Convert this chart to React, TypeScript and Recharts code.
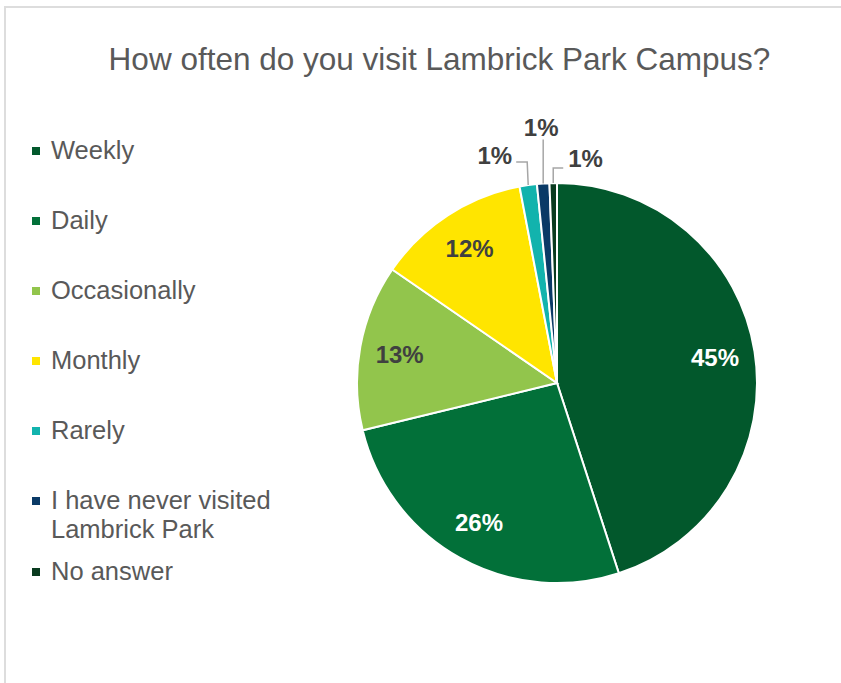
import { PieChart, Pie, Cell } from "recharts";

const categories = [
  "Weekly",
  "Daily",
  "Occasionally",
  "Monthly",
  "Rarely",
  "I have never visited Lambrick Park",
  "No answer",
];
const shares = [45.0, 26.2, 13.4, 12.4, 1.4, 1.0, 0.6];
const colors = [
  "#02582c",
  "#027039",
  "#92c54c",
  "#ffe500",
  "#12b3ad",
  "#0a3a66",
  "#093b1f",
];

const data = categories.map((name, i) => ({ name, value: shares[i] }));

const FONT = "'Liberation Sans', Arial, sans-serif";
const RADIAN = Math.PI / 180;

// leader lines for the thin slices, offsets from the slice's outer edge
const leaders: Record<number, { pts: number[][]; text: number[]; anchor: string }> = {
  4: { pts: [[-1, -23], [-12, -23]], text: [-16, -30], anchor: "end" },
  5: { pts: [[0, -44]], text: [-2, -56], anchor: "middle" },
  6: { pts: [[0, -15], [10, -15]], text: [15, -25], anchor: "start" },
};

const renderLabel = (props: any) => {
  const { cx, cy, midAngle, outerRadius, index, percent } = props;
  const text = `${Math.round(percent * 100)}%`;
  const cos = Math.cos(-midAngle * RADIAN);
  const sin = Math.sin(-midAngle * RADIAN);
  if (index < 4) {
    const r = outerRadius * 0.8;
    return (
      <text
        x={cx + r * cos}
        y={cy + r * sin}
        textAnchor="middle"
        dominantBaseline="central"
        fill={index < 2 ? "#ffffff" : "#404040"}
        fontSize={24}
        fontWeight="bold"
        fontFamily={FONT}
      >
        {text}
      </text>
    );
  }
  const ex = cx + outerRadius * cos;
  const ey = cy + outerRadius * sin;
  const l = leaders[index];
  const points = [[ex, ey], ...l.pts.map(([dx, dy]) => [ex + dx, ey + dy])]
    .map((p) => p.join(","))
    .join(" ");
  return (
    <g>
      <polyline points={points} fill="none" stroke="#a6a6a6" strokeWidth={1.5} />
      <text
        x={ex + l.text[0]}
        y={ey + l.text[1]}
        textAnchor={l.anchor as any}
        dominantBaseline="central"
        fill="#404040"
        fontSize={24}
        fontWeight="bold"
        fontFamily={FONT}
      >
        {text}
      </text>
    </g>
  );
};

const App = () => {
  return (
    <div
      style={{
        position: "fixed",
        left: 0,
        top: 0,
        width: 841,
        height: 683,
        overflow: "hidden",
        background: "#fff",
        fontFamily: FONT,
      }}
    >
      <div
        style={{
          position: "absolute",
          left: 4,
          top: 6,
          width: 900,
          height: 760,
          border: "2px solid #dddddd",
        }}
      />
      <div
        style={{
          position: "absolute",
          left: 0,
          top: 44,
          width: 879,
          textAlign: "center",
          fontSize: 31.5,
          lineHeight: 1,
          color: "#595959",
          whiteSpace: "nowrap",
        }}
      >
        How often do you visit Lambrick Park Campus?
      </div>
      <div style={{ position: "absolute", left: 32, top: 136 }}>
        {categories.map((name, i) => (
          <div
            key={name}
            style={{
              display: "flex",
              alignItems: "flex-start",
              marginBottom: name.length > 20 ? 13 : 41,
              fontSize: 25.5,
              lineHeight: "29px",
              color: "#595959",
            }}
          >
            <div
              style={{
                width: 8,
                height: 8,
                background: colors[i],
                marginTop: 11,
                marginRight: 11,
                flexShrink: 0,
              }}
            />
            <div style={{ maxWidth: 240 }}>{name}</div>
          </div>
        ))}
      </div>
      <div style={{ position: "absolute", left: 0, top: 0 }}>
        <PieChart width={841} height={683} margin={{ top: 0, right: 0, bottom: 0, left: 0 }}>
          <Pie
            data={data}
            dataKey="value"
            nameKey="name"
            cx={557}
            cy={383}
            outerRadius={200}
            startAngle={90}
            endAngle={-270}
            stroke="#ffffff"
            strokeWidth={2}
            label={renderLabel}
            labelLine={false}
            isAnimationActive={false}
          >
            {data.map((entry, index) => (
              <Cell key={`cell-${index}`} fill={colors[index]} />
            ))}
          </Pie>
        </PieChart>
      </div>
    </div>
  );
};

export default App;
